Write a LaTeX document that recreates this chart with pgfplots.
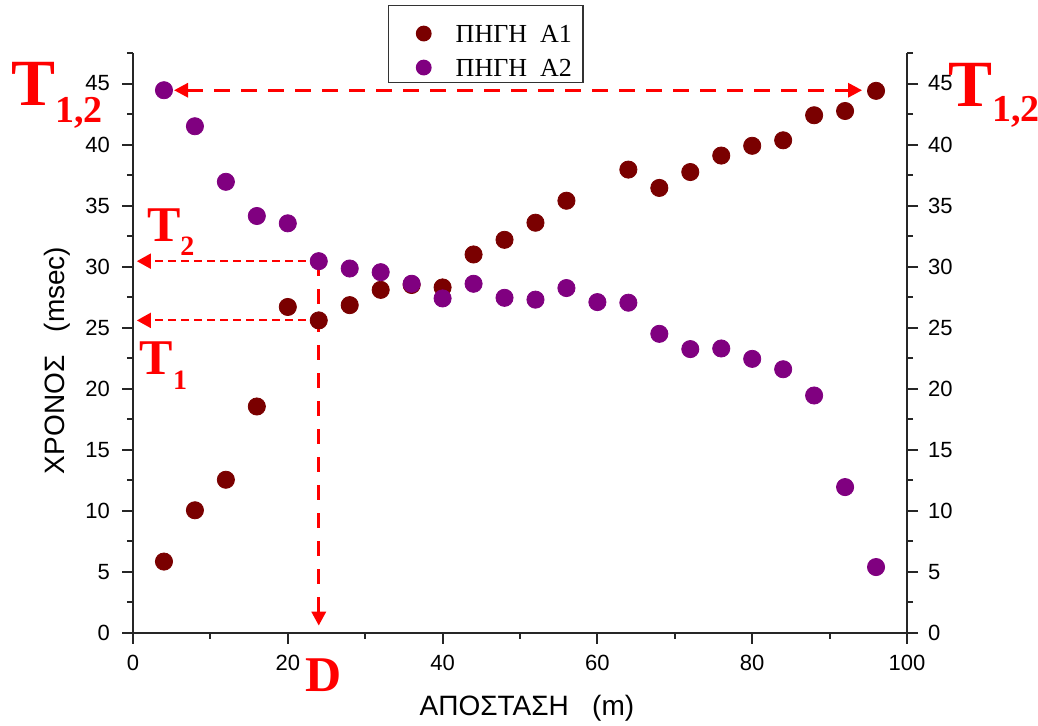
\documentclass[border=0pt]{standalone}
\usepackage{fontspec}
\setmainfont{Liberation Sans}
\newfontfamily\serif{Liberation Serif}
\usepackage{pgfplots}
\usepackage{pgfplotstable}
\pgfplotsset{compat=1.18}
\usetikzlibrary{arrows.meta}
\definecolor{aone}{RGB}{122,0,0}
\definecolor{atwo}{RGB}{128,0,128}
\definecolor{annot}{RGB}{255,0,0}

\pgfplotstableread{
x y
4 5.85
8 10.05
12 12.55
16 18.55
20 26.7
24 25.6
28 26.85
32 28.1
36 28.5
40 28.3
44 31.0
48 32.2
52 33.6
56 35.4
64 37.95
68 36.45
72 37.75
76 39.1
80 39.9
84 40.35
88 42.4
92 42.75
96 44.4
}\sourceA

\pgfplotstableread{
x y
4 44.45
8 41.5
12 36.95
16 34.15
20 33.55
24 30.45
28 29.85
32 29.55
36 28.6
40 27.4
44 28.6
48 27.45
52 27.3
56 28.25
60 27.1
64 27.05
68 24.5
72 23.25
76 23.3
80 22.45
84 21.6
88 19.45
92 11.95
96 5.4
}\sourceB

\begin{document}
\begin{tikzpicture}
\pgfplotsset{
  common/.style={
    at={(0,0)}, anchor=south west, scale only axis, width=387pt, height=290pt,
    xmin=0, xmax=100, ymin=0, ymax=47.5,
    tick align=outside, major tick length=5.5pt, minor tick length=3pt,
    every tick/.style={black!85, line width=1pt},
    axis line style={-, line width=1pt, black!85},
    ytick={0,5,...,45}, minor ytick={2.5,7.5,...,47.5},
    /pgf/number format/assume math mode=true,
    tick label style={font=\fontsize{11}{12}\selectfont},
  }
}
\begin{axis}[common,
  axis x line*=bottom, axis y line*=left,
  xtick={0,20,...,100}, minor xtick={10,30,...,90},
  xticklabel style={yshift=-2pt},
  yticklabel style={xshift=-2.5pt},
  xlabel={ΑΠΟΣΤΑΣΗ\ \ \ (m)}, ylabel={ΧΡΟΝΟΣ\ \ \ (msec)},
  label style={font=\fontsize{14}{16}\selectfont},
  xlabel style={at={(axis description cs:0.509,-0.129)}, anchor=center},
  ylabel style={at={(axis description cs:-0.098,0.47)}, anchor=center},
  clip=false,
  legend style={at={(0.3295,1.083)}, anchor=north west, draw=black!80, line width=0.7pt,
    font=\serif\fontsize{13}{15}\selectfont,
    inner xsep=5.5pt, inner ysep=3pt, row sep=1.5pt, column sep=6pt,
    nodes={inner sep=0pt, text height=9pt, text depth=0pt}},
  legend cell align=left,
  legend image code/.code={\path[draw=none, fill=none] (-12pt,-4.5pt) rectangle (10pt,11pt);
     \draw[mark size=3.6pt] plot coordinates {(0pt,0pt)};},
]
\addplot[only marks, mark=*, mark size=4.3pt, color=aone] table {\sourceA};
\addlegendentry{ΠΗΓΗ\ \ Α1}
\addplot[only marks, mark=*, mark size=4.3pt, color=atwo] table {\sourceB};
\addlegendentry{ΠΗΓΗ\ \ Α2}
\draw[annot, line width=1.5pt, dash pattern=on 8pt off 5.5pt,
  {Triangle[length=7pt,width=7pt]}-{Triangle[length=7pt,width=7pt]}]
  (axis cs:5.3,44.45) -- (axis cs:94.2,44.45);
\draw[annot, line width=1pt, dash pattern=on 4pt off 2.5pt, -{Triangle[length=7pt,width=7.5pt]}]
  (axis cs:24,30.45) -- (axis cs:0.5,30.45);
\draw[annot, line width=1pt, dash pattern=on 4pt off 2.5pt, -{Triangle[length=7pt,width=7.5pt]}]
  (axis cs:24,25.6) -- (axis cs:0.5,25.6);
\draw[annot, line width=1.6pt, dash pattern=on 7.5pt off 6.5pt, -{Triangle[length=7pt,width=7pt]}]
  (axis cs:24,30.45) -- (axis cs:24,0.6);
\end{axis}
\begin{axis}[common,
  axis y line*=right, axis x line=none,
  yticklabel pos=right,
  yticklabel style={xshift=1.5pt},
]
\end{axis}
\node[anchor=base west, inner sep=0pt, text=annot, font=\serif\bfseries\fontsize{33}{33}\selectfont]
  at (-61pt,263.5pt) {T\raisebox{-8.5pt}{\fontsize{19}{19}\selectfont 1,2}};
\node[anchor=base west, inner sep=0pt, text=annot, font=\serif\bfseries\fontsize{33}{33}\selectfont]
  at (407.5pt,263pt) {T\raisebox{-7.5pt}{\fontsize{19}{19}\selectfont 1,2}};
\node[anchor=base west, inner sep=0pt, text=annot, font=\serif\bfseries\fontsize{25}{25}\selectfont]
  at (6.85pt,195.7pt) {T\raisebox{-7pt}{\fontsize{14}{14}\selectfont 2}};
\node[anchor=base west, inner sep=0pt, text=annot, font=\serif\bfseries\fontsize{25}{25}\selectfont]
  at (3.2pt,129pt) {T\raisebox{-7.5pt}{\fontsize{14}{14}\selectfont 1}};
\node[anchor=base west, inner sep=0pt, text=annot, font=\serif\bfseries\fontsize{25}{25}\selectfont]
  at (86pt,-29.5pt) {D};
\pgfresetboundingbox
\path[use as bounding box] (-66.5pt,-46.5pt) rectangle (452.5pt,316.5pt);
\end{tikzpicture}
\end{document}
